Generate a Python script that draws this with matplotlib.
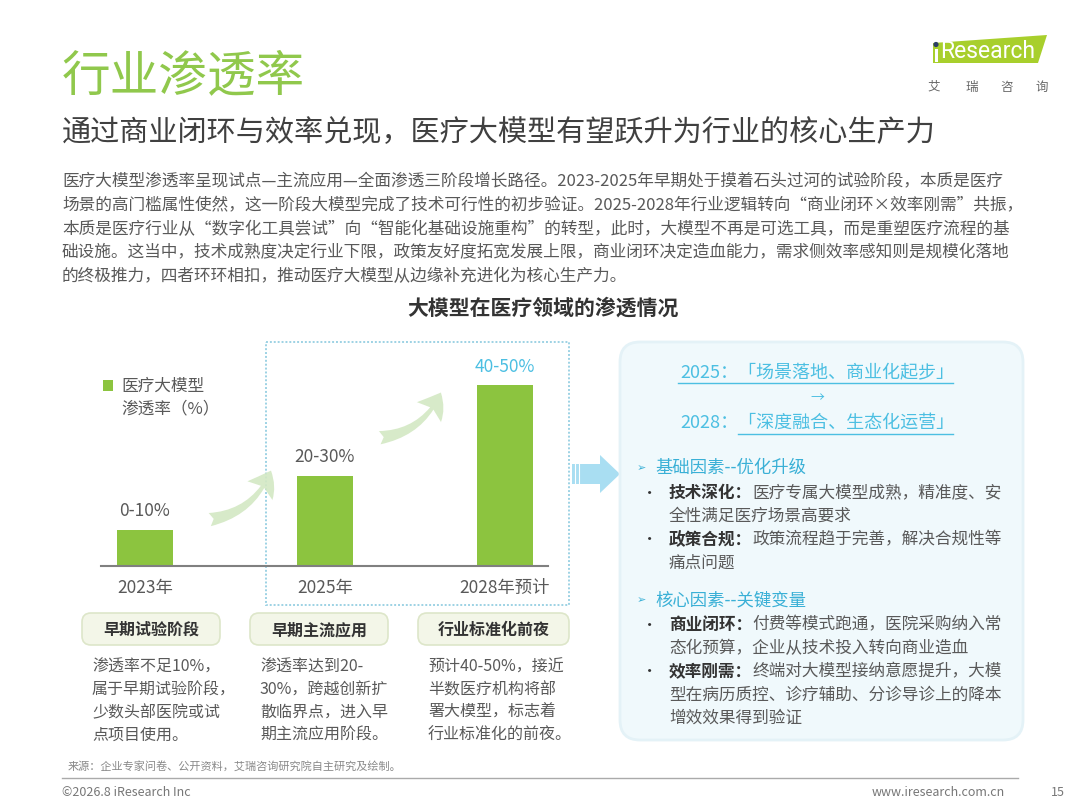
import numpy as np
import matplotlib.pyplot as plt
from matplotlib.patches import FancyBboxPatch, Rectangle, Polygon, FancyArrowPatch, Circle

plt.rcParams['font.family'] = ['Noto Sans CJK SC', 'DejaVu Sans']

# ---------------- data ----------------
years = ["2023年", "2025年", "2028年预计"]
values = [10, 25, 50]                       # relative bar heights
value_labels = ["0-10%", "20-30%", "40-50%"]
stages = ["早期试验阶段", "早期主流应用", "行业标准化前夜"]
stage_desc = [
    ["渗透率不足10%，", "属于早期试验阶段，", "少数头部医院或试", "点项目使用。"],
    ["渗透率达到20-", "30%，跨越创新扩", "散临界点，进入早", "期主流应用阶段。"],
    ["预计40-50%，接近", "半数医疗机构将部", "署大模型，标志着", "行业标准化的前夜。"],
]
title = "行业渗透率"
subtitle = "通过商业闭环与效率兑现，医疗大模型有望跃升为行业的核心生产力"
paragraph = [
    "医疗大模型渗透率呈现试点—主流应用—全面渗透三阶段增长路径。2023-2025年早期处于摸着石头过河的试验阶段，本质是医疗",
    "场景的高门槛属性使然，这一阶段大模型完成了技术可行性的初步验证。2025-2028年行业逻辑转向“商业闭环×效率刚需”共振，",
    "本质是医疗行业从“数字化工具尝试”向“智能化基础设施重构”的转型，此时，大模型不再是可选工具，而是重塑医疗流程的基",
    "础设施。这当中，技术成熟度决定行业下限，政策友好度拓宽发展上限，商业闭环决定造血能力，需求侧效率感知则是规模化落地",
    "的终极推力，四者环环相扣，推动医疗大模型从边缘补充进化为核心生产力。",
]
chart_title = "大模型在医疗领域的渗透情况"
legend_label = ["医疗大模型", "渗透率（%）"]
phase_lines = ["2025：「场景落地、商业化起步」", "→", "2028：「深度融合、生态化运营」"]
factor_heads = ["基础因素--优化升级", "核心因素--关键变量"]
factor_items = [
    [("技术深化：", ["医疗专属大模型成熟，精准度、安", "全性满足医疗场景高要求"]),
     ("政策合规：", ["政策流程趋于完善，解决合规性等", "痛点问题"])],
    [("商业闭环：", ["付费等模式跑通，医院采购纳入常", "态化预算，企业从技术投入转向商业造血"]),
     ("效率刚需：", ["终端对大模型接纳意愿提升，大模", "型在病历质控、诊疗辅助、分诊导诊上的降本", "增效效果得到验证"])],
]
source = "来源：企业专家问卷、公开资料，艾瑞咨询研究院自主研究及绘制。"

GREEN = "#8cc43f"
BLUE = "#4cbfe2"
DARK = "#333333"
GREY = "#595959"

fig = plt.figure(figsize=(10.8, 8.1), dpi=100)
fig.patch.set_facecolor("white")

# background axes in pixel coordinates (y downward)
bg = fig.add_axes([0, 0, 1, 1])
bg.set_xlim(0, 1080)
bg.set_ylim(810, 0)
bg.axis("off")

# title / subtitle / paragraph
bg.text(62, 76, title, fontsize=35, color="#90c84c", va="center", ha="left")
bg.text(62, 133, subtitle, fontsize=21, color="#404040", va="center", ha="left")
for i, ln in enumerate(paragraph):
    bg.text(62, 182 + i * 23.6, ln, fontsize=12, color=GREY, va="center", ha="left")
bg.text(543, 308, chart_title, fontsize=15, color=DARK, weight="bold", va="center", ha="center")

# logo
bg.add_patch(Polygon([(933, 43), (1047, 35), (1038, 63), (933, 63)], closed=True,
                     facecolor="#a8cf2c", edgecolor="none"))
bg.add_patch(Rectangle((934.5, 49), 3, 13, facecolor="white", edgecolor="none"))
bg.add_patch(Circle((936, 44.5), 2.6, facecolor="#2c3e66", edgecolor="none"))
bg.text(940, 51, "Research", fontsize=16.5, color="white", family="Roboto", va="center", ha="left")
for cx, ch in zip([934, 972, 1007, 1042], "艾瑞咨询"):
    bg.text(cx, 87, ch, fontsize=9, color="#666666", va="center", ha="center")

# dotted frame around 2025-2028
bg.add_patch(Rectangle((266, 342), 303, 263, facecolor="none", edgecolor="#9dd2e4",
                       linestyle=(0, (1, 1)), lw=1.4))

# curved growth arrows
for (x0, y0), (x1, y1) in [((207, 520), (272, 468)), ((377, 438), (442, 390))]:
    bg.add_patch(FancyArrowPatch((x0, y0), (x1, y1), connectionstyle="arc3,rad=0.3",
                                 arrowstyle="fancy,head_length=0.55,head_width=0.75,tail_width=0.32",
                                 mutation_scale=30, facecolor="#d3e8c3", edgecolor="none",
                                 alpha=0.9))

# legend
bg.add_patch(Rectangle((103, 380), 10, 11, facecolor=GREEN, edgecolor="none"))
bg.text(121, 386, legend_label[0], fontsize=12, color=GREY, va="center", ha="left")
bg.text(121, 409, legend_label[1], fontsize=12, color=GREY, va="center", ha="left")

# blue chevron arrow
bg.add_patch(Polygon([(572, 464), (600, 464), (600, 455), (620, 474), (600, 493),
                      (600, 484), (572, 484)], closed=True, facecolor="#a9def2", edgecolor="none"))
for sx in [575, 579]:
    bg.plot([sx, sx], [464, 484], color="white", lw=0.8)

# stage boxes + descriptions
box_x = [82, 250, 418]
box_w = [138, 138, 151]
desc_x = [92, 260, 428]
for i in range(3):
    bg.add_patch(FancyBboxPatch((box_x[i], 613), box_w[i], 32,
                                boxstyle="round,pad=0,rounding_size=9",
                                facecolor="#f3f6e8", edgecolor="#dde6c9", lw=1.2))
    bg.text(box_x[i] + box_w[i] / 2, 630, stages[i], fontsize=11.5, color=DARK,
            weight="bold", va="center", ha="center")
    for j, ln in enumerate(stage_desc[i]):
        bg.text(desc_x[i], 667 + j * 22.7, ln, fontsize=11.5, color=GREY, va="center", ha="left")

# right panel
bg.add_patch(FancyBboxPatch((620, 342), 403, 398, boxstyle="round,pad=0,rounding_size=20",
                            facecolor="#f0f9fc", edgecolor="#e4f2f7", lw=2))
bg.text(817, 373, phase_lines[0], fontsize=13, color=BLUE, style="italic", va="center", ha="center")
bg.text(817, 398, phase_lines[1], fontsize=10, color=BLUE, va="center", ha="center")
bg.text(817, 423, phase_lines[2], fontsize=13, color=BLUE, style="italic", va="center", ha="center")
bg.plot([678, 953], [383, 383], color=BLUE, lw=1)
bg.plot([738, 953], [434, 434], color=BLUE, lw=1)

fig.canvas.draw()
renderer = fig.canvas.get_renderer()

head_y = [468, 600]
item_y = [[493, 540], [625, 672]]
for k in range(2):
    bg.text(637, head_y[k], "➢", fontsize=8, color="#3ab0d6", va="center", ha="left")
    bg.text(655, head_y[k], factor_heads[k], fontsize=12.5, color="#3ab0d6", va="center", ha="left")
    for (bold, lines), y0 in zip(factor_items[k], item_y[k]):
        bg.text(650, y0, "·", fontsize=11, color=DARK, va="center", ha="center")
        tb = bg.text(669, y0, bold, fontsize=12, color=DARK, weight="bold", va="center", ha="left")
        x_end = tb.get_window_extent(renderer).x1
        bg.text(x_end, y0, lines[0], fontsize=12, color=GREY, va="center", ha="left")
        for j, ln in enumerate(lines[1:]):
            bg.text(669, y0 + (j + 1) * 23.2, ln, fontsize=12, color=GREY, va="center", ha="left")

# footer
bg.text(68, 766, source, fontsize=8, color="#888888", va="center", ha="left")
bg.plot([62, 1018], [778, 778], color="#aaaaaa", lw=1)
bg.text(62, 792, "©2026.8 iResearch Inc", fontsize=9, color="#777777", va="center", ha="left")
bg.text(1005, 792, "www.iresearch.com.cn", fontsize=9, color="#777777", va="center", ha="right")
bg.text(1058, 792, "15", fontsize=9, color="#777777", va="center", ha="center")

# ---------------- bar chart ----------------
ax = fig.add_axes([101 / 1080, 1 - 566 / 810, 447 / 1080, 224 / 810])
ax.patch.set_visible(False)
x = np.arange(len(years))
bars = ax.bar(x, values, width=0.31, color=GREEN)
ax.set_xlim(-0.244, 2.239)
ax.set_ylim(0, 62)
for s in ["top", "right", "left"]:
    ax.spines[s].set_visible(False)
ax.spines["bottom"].set_color("#808080")
ax.spines["bottom"].set_linewidth(1.5)
ax.set_yticks([])
ax.set_xticks(x)
ax.set_xticklabels(years, fontsize=12.5, color=GREY)
ax.tick_params(axis="x", length=0, pad=9)
lbls = ax.bar_label(bars, labels=value_labels, padding=7, fontsize=12.5, color=GREY)
lbls[-1].set_color(BLUE)

fig.savefig("out.png", dpi=100)
